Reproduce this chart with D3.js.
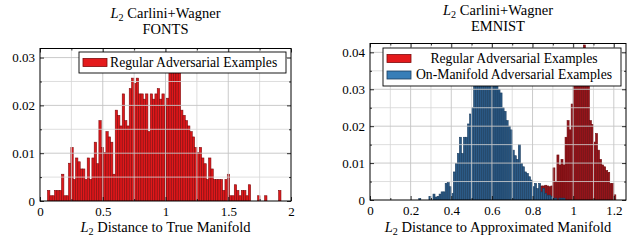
<!DOCTYPE html>
<html>
<head>
<meta charset="utf-8">
<script src="https://cdn.jsdelivr.net/npm/d3@7"></script>
<style>
  body { margin: 0; background: #fff; }
  svg { display: block; font-family: "Liberation Serif", "Times New Roman", serif; }
</style>
</head>
<body>
<svg width="635" height="240"></svg>
<script>

// FONTS panel: one histogram, bins of equal width
var fontsBinStart = 0.06;
var fontsBinWidth = 0.0186;
var fontsRegular = [
  0.0022, 0.0011, 0.0011, 0.0022, 0.0022, 0.0022, 0.0056, 0.0011, 0.0011, 0.0079,
  0.0112, 0.0045, 0.0090, 0.0082, 0.0067, 0.0067, 0.0045, 0.0090, 0.0045, 0.0090,
  0.0123, 0.0078, 0.0168, 0.0112, 0.0101, 0.0145, 0.0134, 0.0123, 0.0056, 0.0190,
  0.0179, 0.0157, 0.0224, 0.0168, 0.0157, 0.0235, 0.0257, 0.0246, 0.0257, 0.0224,
  0.0224, 0.0213, 0.0224, 0.0145, 0.0224, 0.0213, 0.0224, 0.0235, 0.0213, 0.0224,
  0.0200, 0.0215, 0.0280, 0.0290, 0.0300, 0.0285, 0.0270, 0.0190, 0.0179, 0.0168,
  0.0157, 0.0145, 0.0134, 0.0112, 0.0101, 0.0112, 0.0090, 0.0078, 0.0045, 0.0090,
  0.0067, 0.0045, 0.0045, 0.0045, 0.0045, 0.0022, 0.0045, 0.0056, 0.0011, 0.0011,
  0.0034, 0.0022, 0.0011, 0.0022, 0.0022, 0.0011, 0.0034, 0, 0, 0,
  0.0011, 0, 0, 0.0011, 0, 0, 0, 0, 0, 0.0022
];

// EMNIST panel: two histograms
var emnistBinWidth = 0.01;
var emnistRegularStart = 0.84;
var emnistRegular = [
  0.0038, 0.0038, 0.0040, 0.0038, 0.0036, 0.0038, 0.0087, 0.0050, 0.0122, 0.0095,
  0.0110, 0.0095, 0.0170, 0.0215, 0.0190, 0.0260, 0.0320, 0.0360, 0.0390, 0.0410,
  0.0400, 0.0420, 0.0380, 0.0340, 0.0215, 0.0205, 0.0157, 0.0180, 0.0135, 0.0110,
  0.0095, 0.0090, 0.0080, 0.0075, 0.0045, 0.0045, 0.0014
];
var emnistOnManifoldStart = 0.24;
var emnistOnManifold = [
  0.0004, 0, 0, 0, 0, 0.0010, 0, 0.0016, 0.0008, 0.0010,
  0.0016, 0.0022, 0.0022, 0.0045, 0.0047, 0.0036, 0.0018, 0.0076, 0.0099, 0.0126,
  0.0170, 0.0126, 0.0170, 0.0170, 0.0206, 0.0233, 0.0250, 0.0310, 0.0340, 0.0360,
  0.0350, 0.0380, 0.0360, 0.0370, 0.0340, 0.0360, 0.0330, 0.0310, 0.0320, 0.0300,
  0.0290, 0.0250, 0.0240, 0.0215, 0.0200, 0.0190, 0.0135, 0.0120, 0.0110, 0.0150,
  0.0099, 0.0090, 0.0076, 0.0072, 0.0063, 0.0054, 0.0036, 0.0045, 0.0031, 0.0045,
  0.0022, 0.0031, 0.0018, 0.0013, 0.0013, 0.0009, 0.0005, 0.0005, 0, 0.0005,
  0.0005, 0.0005
];

var fontsXTicks = [0, 0.5, 1, 1.5, 2];
var fontsXMinor = [0.25, 0.75, 1.25, 1.75];
var emnistXTicks = [0, 0.2, 0.4, 0.6, 0.8, 1, 1.2];
var emnistXMinor = [0.1, 0.3, 0.5, 0.7, 0.9, 1.1];
var fontsYTicks = [0, 0.01, 0.02, 0.03];
var emnistYTicks = [0, 0.01, 0.02, 0.03, 0.04];
var yMinor = [0.005, 0.015, 0.025, 0.035];

var seriesNames = ["Regular Adversarial Examples", "On-Manifold Adversarial Examples"];

var toBins = function(values, start, width) {
  return values.map(function(v, i) {
    return {x0: start + i * width, x1: start + (i + 1) * width, v: v};
  }).filter(function(d) { return d.v > 0; });
};

// italic L with subscript 2, then the rest of the text
var mathText = function(sel, rest) {
  sel.append("tspan").attr("font-style", "italic").text("L");
  sel.append("tspan").attr("font-size", "0.7em").attr("dy", 3).text("2");
  sel.append("tspan").attr("dy", -3).text(" " + rest);
};

var tickFmt = function(d) {
  return d === 0 ? "0" : String(d);
};

var drawPanel = function(svg, cfg) {
  let x = d3.scaleLinear().domain(cfg.xDomain).range([cfg.left, cfg.right]);
  let y = d3.scaleLinear().domain(cfg.yDomain).range([cfg.bottom, cfg.top]);
  let w = cfg.right - cfg.left;
  let h = cfg.bottom - cfg.top;

  svg.append("clipPath").attr("id", cfg.id + "-clip")
    .append("rect")
    .attr("x", cfg.left).attr("y", cfg.top)
    .attr("width", w).attr("height", h);

  let bars = svg.append("g").attr("clip-path", "url(#" + cfg.id + "-clip)");
  cfg.series.forEach(function(s) {
    bars.append("g").selectAll("rect")
      .data(toBins(s.values, s.start, s.width))
      .enter().append("rect")
      .attr("x", function(d) { return x(d.x0); })
      .attr("width", function(d) { return x(d.x1) - x(d.x0); })
      .attr("y", function(d) { return y(d.v); })
      .attr("height", function(d) { return y(0) - y(d.v); })
      .attr("fill", s.fill)
      .attr("stroke", s.stroke)
      .attr("stroke-width", 0.6);
  });

  // grid over the bars, like the original
  let grid = svg.append("g");
  let vLines = function(vals, color, op) {
    grid.append("g").selectAll("line")
      .data(vals.filter(function(v) { return v > cfg.xDomain[0] && v < cfg.xDomain[1]; }))
      .enter().append("line")
      .attr("x1", function(d) { return x(d); }).attr("x2", function(d) { return x(d); })
      .attr("y1", cfg.top).attr("y2", cfg.bottom)
      .attr("stroke", color).attr("stroke-opacity", op);
  };
  let hLines = function(vals, color, op) {
    grid.append("g").selectAll("line")
      .data(vals.filter(function(v) { return v > cfg.yDomain[0] && v < cfg.yDomain[1]; }))
      .enter().append("line")
      .attr("y1", function(d) { return y(d); }).attr("y2", function(d) { return y(d); })
      .attr("x1", cfg.left).attr("x2", cfg.right)
      .attr("stroke", color).attr("stroke-opacity", op);
  };
  vLines(cfg.xMinor, "#d6d6d6", 0.8);
  hLines(yMinor, "#d6d6d6", 0.8);
  vLines(cfg.xTicks, "#c4c4c4", 0.9);
  hLines(cfg.yTicks, "#c4c4c4", 0.9);

  // axes with ticks pointing inwards on all four sides
  let styleAxis = function(g) {
    g.select(".domain").remove();
    g.attr("font-family", null).attr("font-size", 13);
    g.selectAll("line").attr("stroke", "#000").attr("stroke-width", 0.8);
    g.selectAll("text").attr("fill", "#000");
  };
  let yMinorIn = yMinor.filter(function(v) { return v < cfg.yDomain[1]; });

  svg.append("g").attr("transform", "translate(0," + cfg.bottom + ")")
    .call(d3.axisBottom(x).tickValues(cfg.xTicks).tickSize(-4).tickPadding(5.5).tickFormat(tickFmt))
    .call(styleAxis);
  svg.append("g").attr("transform", "translate(0," + cfg.bottom + ")")
    .call(d3.axisBottom(x).tickValues(cfg.xMinor).tickSize(-2).tickFormat(""))
    .call(styleAxis);
  svg.append("g").attr("transform", "translate(0," + cfg.top + ")")
    .call(d3.axisTop(x).tickValues(cfg.xTicks).tickSize(-4).tickFormat(""))
    .call(styleAxis);
  svg.append("g").attr("transform", "translate(0," + cfg.top + ")")
    .call(d3.axisTop(x).tickValues(cfg.xMinor).tickSize(-2).tickFormat(""))
    .call(styleAxis);
  svg.append("g").attr("transform", "translate(" + cfg.left + ",0)")
    .call(d3.axisLeft(y).tickValues(cfg.yTicks).tickSize(-4).tickPadding(5).tickFormat(tickFmt))
    .call(styleAxis);
  svg.append("g").attr("transform", "translate(" + cfg.left + ",0)")
    .call(d3.axisLeft(y).tickValues(yMinorIn).tickSize(-2).tickFormat(""))
    .call(styleAxis);
  svg.append("g").attr("transform", "translate(" + cfg.right + ",0)")
    .call(d3.axisRight(y).tickValues(cfg.yTicks).tickSize(-4).tickFormat(""))
    .call(styleAxis);
  svg.append("g").attr("transform", "translate(" + cfg.right + ",0)")
    .call(d3.axisRight(y).tickValues(yMinorIn).tickSize(-2).tickFormat(""))
    .call(styleAxis);

  // frame
  svg.append("rect")
    .attr("x", cfg.left).attr("y", cfg.top)
    .attr("width", w).attr("height", h)
    .attr("fill", "none").attr("stroke", "#000").attr("stroke-width", 1);

  // legend
  let lg = cfg.legend;
  svg.append("rect")
    .attr("x", lg.x).attr("y", lg.y)
    .attr("width", lg.w).attr("height", lg.h)
    .attr("fill", "#fff").attr("stroke", "#000").attr("stroke-width", 0.9);
  lg.items.forEach(function(it, i) {
    svg.append("rect")
      .attr("x", lg.x + 4).attr("y", lg.y + 6.5 + i * lg.row)
      .attr("width", 24).attr("height", 8)
      .attr("fill", it.fill).attr("stroke", it.stroke).attr("stroke-width", 0.8);
    svg.append("text")
      .attr("x", lg.textX).attr("y", lg.y + 14.5 + i * lg.row)
      .attr("text-anchor", lg.anchor)
      .attr("font-size", 13.7)
      .text(it.name);
  });

  // titles and axis label
  let cx = (cfg.left + cfg.right) / 2;
  svg.append("text")
    .attr("x", cx).attr("y", cfg.titleY)
    .attr("text-anchor", "middle").attr("font-size", 14.5)
    .call(mathText, "Carlini+Wagner");
  svg.append("text")
    .attr("x", cx).attr("y", cfg.titleY + 16.5)
    .attr("text-anchor", "middle").attr("font-size", 14.5)
    .text(cfg.dataset);
  svg.append("text")
    .attr("x", cx).attr("y", 232)
    .attr("text-anchor", "middle").attr("font-size", 14.5)
    .call(mathText, cfg.xLabel);
};

let svg = d3.select("svg");

drawPanel(svg, {
  id: "fonts",
  left: 40, right: 291, top: 48.5, bottom: 201,
  xDomain: [0, 2], yDomain: [0, 0.0319],
  xTicks: fontsXTicks, xMinor: fontsXMinor, yTicks: fontsYTicks,
  series: [
    {values: fontsRegular, start: fontsBinStart, width: fontsBinWidth, fill: "#e0181b", stroke: "#7d0a0c"}
  ],
  legend: {
    x: 79, y: 52, w: 207, h: 21, row: 0, textX: 110, anchor: "start",
    items: [{name: seriesNames[0], fill: "#e41a1c", stroke: "#7d0a0c"}]
  },
  titleY: 17.5, dataset: "FONTS",
  xLabel: "Distance to True Manifold"
});

drawPanel(svg, {
  id: "emnist",
  left: 370, right: 626, top: 43.5, bottom: 200,
  xDomain: [0, 1.26], yDomain: [0, 0.0424],
  xTicks: emnistXTicks, xMinor: emnistXMinor, yTicks: emnistYTicks,
  series: [
    {values: emnistRegular, start: emnistRegularStart, width: emnistBinWidth, fill: "#94141a", stroke: "#6e0d10"},
    {values: emnistOnManifold, start: emnistOnManifoldStart, width: emnistBinWidth, fill: "#2b5a86", stroke: "#1b3d5e"}
  ],
  legend: {
    x: 383, y: 48, w: 238, h: 38, row: 16.5, textX: 514, anchor: "middle",
    items: [
      {name: seriesNames[0], fill: "#e41a1c", stroke: "#7d0a0c"},
      {name: seriesNames[1], fill: "#377eb8", stroke: "#1b3d5e"}
    ]
  },
  titleY: 14.5, dataset: "EMNIST",
  xLabel: "Distance to Approximated Manifold"
});

</script>
</body>
</html>
